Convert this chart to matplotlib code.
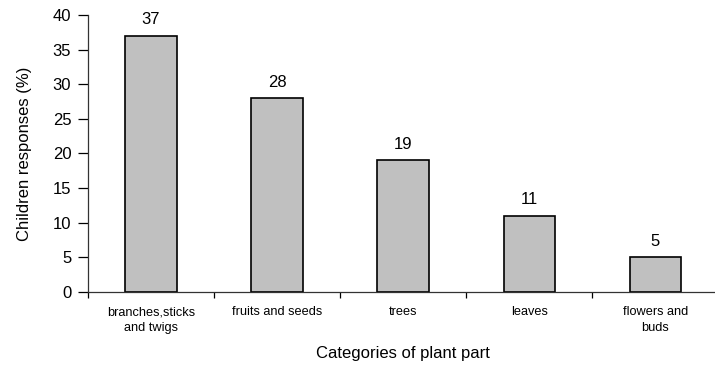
import matplotlib
matplotlib.use("Agg")
import matplotlib.pyplot as plt
from matplotlib.ticker import FixedLocator, MultipleLocator

plt.rcParams["font.family"] = ["Liberation Sans", "DejaVu Sans"]

# 数据
categories = ["branches,sticks\nand twigs", "fruits and seeds", "trees",
              "leaves", "flowers and\nbuds"]
responses = [37, 28, 19, 11, 5]

fig = plt.figure(figsize=(7.15, 3.66), dpi=100)
ax = fig.add_axes([0.123, 0.203, 0.882, 0.756])

x = list(range(len(categories)))
bars = ax.bar(x, responses, width=0.41, color="#c0c0c0",
              edgecolor="black", linewidth=1.2, zorder=2)

for b, v in zip(bars, responses):
    ax.text(b.get_x() + b.get_width() / 2, v + 1.2, f"{v}",
            ha="center", va="bottom", fontsize=12)

ax.set_xlim(-0.5, len(categories) - 0.5)
ax.set_ylim(0, 40)
ax.yaxis.set_major_locator(MultipleLocator(5))
ax.tick_params(axis="y", labelsize=12, length=7, width=0.9, pad=5)

# 分类标签放在主刻度，刻度线放在分类边界
ax.set_xticks(x)
ax.set_xticklabels(categories, fontsize=9.2, linespacing=1.45)
ax.tick_params(axis="x", which="major", length=0, pad=10.5)
ax.xaxis.set_minor_locator(FixedLocator([i - 0.5 for i in range(len(categories) + 1)]))
ax.tick_params(axis="x", which="minor", length=4, width=0.9)

for s in ("top", "right"):
    ax.spines[s].set_visible(False)
for s in ("left", "bottom"):
    ax.spines[s].set_linewidth(0.9)
    ax.spines[s].set_color("#333333")

ax.set_ylabel("Children responses (%)", fontsize=12, labelpad=15)
ax.set_xlabel("Categories of plant part", fontsize=12, labelpad=8.5)

fig.savefig("out.png", dpi=100)
